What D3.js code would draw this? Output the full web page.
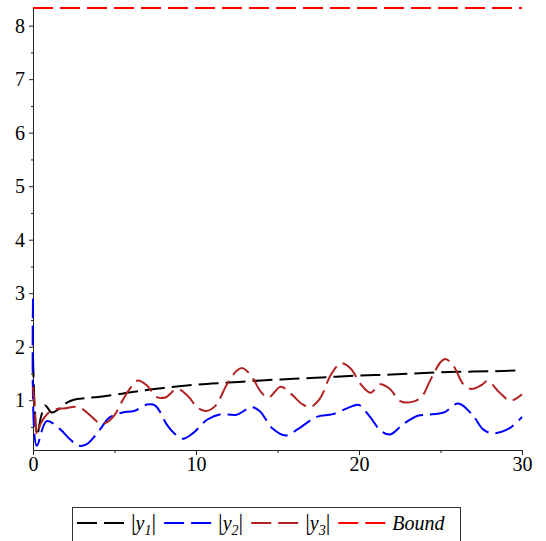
<!DOCTYPE html>
<html>
<head>
<meta charset="utf-8">
<script src="https://cdn.jsdelivr.net/npm/d3@7"></script>
<style>
  body { margin: 0; background: #fff; }
</style>
</head>
<body>
<div id="chart"></div>
<script>
// |y1| (black)
const t1 = [0, 0.25, 0.5, 0.75, 1.15, 1.6, 2.0, 2.5, 3.2, 4, 5, 6, 8, 10, 12, 14, 16, 18, 20, 22, 24, 26, 28, 30];
const y1 = [1.8, 0.35, 0.70, 0.90, 0.77, 0.84, 0.94, 1.01, 1.04, 1.06, 1.10, 1.15, 1.23, 1.29, 1.33, 1.37, 1.40, 1.43, 1.46, 1.48, 1.51, 1.53, 1.54, 1.56];

// |y2| (blue)
const t2 = [0, 0.23, 0.84, 1.66, 2.27, 2.8, 3.3, 4.1, 4.7, 5.5, 6.2, 7.0, 7.5, 8.2, 8.6, 9.2, 9.8, 10.7, 11.5, 12.5, 13.4, 13.9, 14.7, 15.5, 16.3, 17.4, 18.4, 19.6, 20.0, 20.7, 21.3, 21.9, 22.7, 23.6, 24.2, 25.2, 26.1, 27.0, 27.6, 28.2, 29.3, 30];
const y2 = [2.9, 0.15, 0.61, 0.46, 0.27, 0.15, 0.18, 0.45, 0.68, 0.77, 0.80, 0.92, 0.90, 0.55, 0.40, 0.28, 0.38, 0.64, 0.74, 0.73, 0.87, 0.80, 0.47, 0.34, 0.47, 0.69, 0.74, 0.89, 0.91, 0.68, 0.44, 0.36, 0.55, 0.71, 0.73, 0.77, 0.94, 0.71, 0.46, 0.38, 0.49, 0.69];

// |y3| (brown)
const t3 = [0, 0.1, 0.25, 0.45, 0.7, 1.0, 1.4, 2.0, 2.6, 3.0, 3.5, 4.1, 4.5, 5.0, 5.5, 6.0, 6.45, 7.0, 7.6, 8.1, 8.85, 9.5, 10.1, 10.6, 11.2, 11.9, 12.5, 12.85, 13.4, 14.0, 14.45, 15.2, 15.9, 16.5, 17.0, 17.6, 18.3, 18.9, 19.5, 20.1, 20.7, 21.3, 21.9, 22.5, 23.1, 23.8, 24.4, 25.0, 25.3, 25.8, 26.4, 26.9, 27.5, 27.9, 28.6, 29.3, 30];
const y3 = [1.25, 0.9, 0.36, 0.55, 0.68, 0.78, 0.83, 0.85, 0.88, 0.84, 0.72, 0.57, 0.58, 0.72, 1.0, 1.24, 1.37, 1.27, 1.06, 1.05, 1.21, 1.08, 0.86, 0.80, 0.90, 1.30, 1.55, 1.60, 1.45, 1.15, 1.05, 1.25, 1.10, 0.93, 0.87, 1.03, 1.49, 1.69, 1.59, 1.30, 1.14, 1.30, 1.21, 0.99, 0.96, 1.05, 1.39, 1.71, 1.77, 1.64, 1.30, 1.21, 1.28, 1.36, 1.15, 0.99, 1.11];

const bound = 8.33;

const xTicks = [0, 10, 20, 30];
const xMinor = [5, 15, 25];
const yTicks = [1, 2, 3, 4, 5, 6, 7, 8];
const yMinor = [0.5, 1.5, 2.5, 3.5, 4.5, 5.5, 6.5, 7.5];

const series = [
  { t: t1, v: y1, color: "#000000", sub: "1" },
  { t: t2, v: y2, color: "#0000ff", sub: "2" },
  { t: t3, v: y3, color: "#b22222", sub: "3" }
];

const width = 546, height = 541;
const dash = "20,7";
const serif = '"Liberation Serif"';

const svg = d3.select("#chart")
  .append("svg")
  .attr("width", width)
  .attr("height", height);

const x = d3.scaleLinear().domain([0, 30]).range([33, 522]);
const y = d3.scaleLinear().domain([0.07, 8.33]).range([450, 8]);

// axes
svg.append("g")
  .attr("transform", `translate(0,${y.range()[0]})`)
  .call(d3.axisBottom(x).tickValues(xMinor).tickSize(3).tickFormat(""))
  .call(g => g.select(".domain").remove());
svg.append("g")
  .attr("transform", `translate(0,${y.range()[0]})`)
  .call(d3.axisBottom(x).tickValues(xTicks).tickSize(5).tickSizeOuter(0).tickPadding(2))
  .call(g => g.selectAll("text").style("font-size", "20px").style("font-family", serif));

svg.append("g")
  .attr("transform", `translate(${x.range()[0]},0)`)
  .call(d3.axisLeft(y).tickValues(yMinor).tickSize(2).tickFormat(""))
  .call(g => g.select(".domain").remove());
svg.append("g")
  .attr("transform", `translate(${x.range()[0]},0)`)
  .call(d3.axisLeft(y).tickValues(yTicks).tickSize(4).tickSizeOuter(0).tickPadding(4))
  .call(g => g.selectAll("text").style("font-size", "20px").style("font-family", serif));

svg.selectAll(".domain, .tick line").attr("stroke", "#222");

// curves
const line = d3.line()
  .x(d => x(d[0]))
  .y(d => y(d[1]))
  .curve(d3.curveCatmullRom.alpha(0.5));

svg.append("g")
  .selectAll("path")
  .data(series)
  .join("path")
  .attr("fill", "none")
  .attr("stroke", d => d.color)
  .attr("stroke-width", 2)
  .attr("stroke-dasharray", dash)
  .attr("d", d => line(d.t.map((tt, i) => [tt, d.v[i]])));

svg.append("line")
  .attr("x1", x(0)).attr("x2", x(30))
  .attr("y1", y(bound)).attr("y2", y(bound))
  .attr("stroke", "#ff0000")
  .attr("stroke-width", 2)
  .attr("stroke-dasharray", dash);

// legend
const legend = svg.append("g");
legend.append("rect")
  .attr("x", 72.5).attr("y", 507.5)
  .attr("width", 388).attr("height", 60)
  .attr("fill", "none")
  .attr("stroke", "#333");

const items = series.map(s => ({ color: s.color, sub: s.sub }))
  .concat([{ color: "#ff0000", label: "Bound" }]);

let cx = 77;
const ly = 523, base = 530;
items.forEach(it => {
  legend.append("line")
    .attr("x1", cx).attr("x2", cx + 47)
    .attr("y1", ly).attr("y2", ly)
    .attr("stroke", it.color)
    .attr("stroke-width", 2)
    .attr("stroke-dasharray", dash);
  cx += 54;
  const txt = legend.append("text")
    .attr("x", cx).attr("y", base)
    .style("font-family", serif)
    .style("font-size", "20px")
    .attr("fill", "#000");
  if (it.label) {
    txt.style("font-style", "italic").text(it.label);
  } else {
    txt.append("tspan").style("font-size", "23px").text("|");
    txt.append("tspan").style("font-style", "italic").text("y");
    txt.append("tspan").style("font-style", "italic").style("font-size", "14px").attr("dy", 5).text(it.sub);
    txt.append("tspan").style("font-size", "23px").attr("dy", -5).text("|");
  }
  cx += txt.node().getComputedTextLength() + 8;
});
</script>
</body>
</html>
